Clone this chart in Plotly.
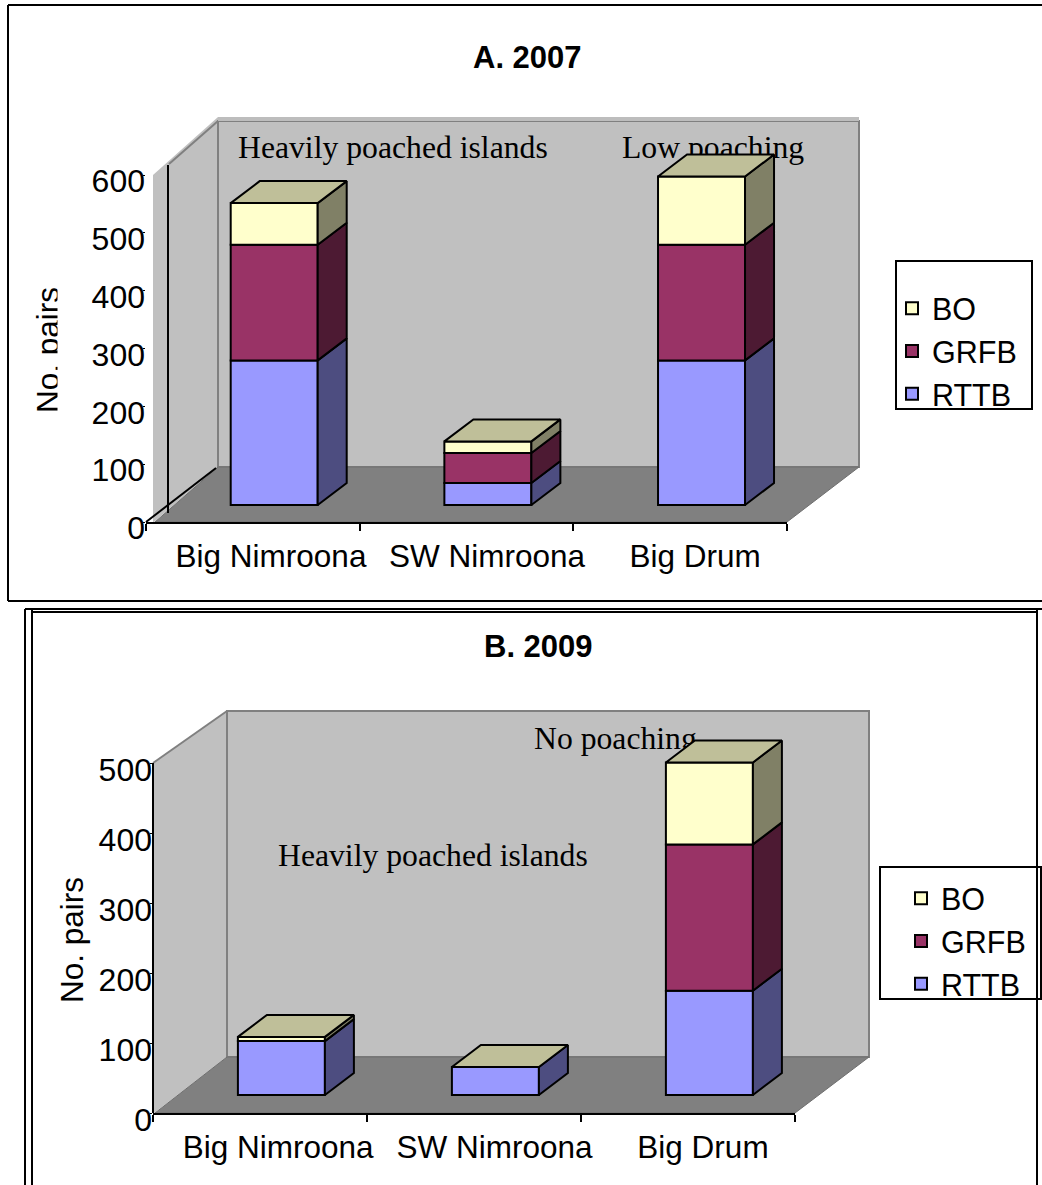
import plotly.graph_objects as go

W, H = 1042, 1185

CATEGORIES = ["Big Nimroona", "SW Nimroona", "Big Drum"]
SERIES = ["RTTB", "GRFB", "BO"]
A_RTTB = [250, 38, 250]
A_GRFB = [200, 52, 200]
A_BO = [72, 20, 118]
B_RTTB = [77, 40, 149]
B_GRFB = [0, 0, 209]
B_BO = [6, 0, 117]
A_TICKS = [0, 100, 200, 300, 400, 500, 600]
B_TICKS = [0, 100, 200, 300, 400, 500]

FRONT = ["#9999FF", "#993366", "#FFFFCC"]
SIDE = ["#4D4D80", "#4D1A33", "#808066"]
TOP = "#BFBF99"
WALL = "#C0C0C0"
FLOOR = "#808080"
EDGE = "#808080"
SANS = "Liberation Sans"
SERIF = "Liberation Serif"

fig = go.Figure()
shapes, annotations = [], []


def fx(x):
    return x / W


def fy(y):
    return 1 - y / H


def poly(points, fill=None, line=None, lw=1.5, layer="below"):
    path = "M" + " L".join(f"{fx(a)},{fy(b)}" for a, b in points) + (" Z" if fill else "")
    shapes.append(dict(type="path", path=path, xref="paper", yref="paper", layer=layer,
                       fillcolor=fill or "rgba(0,0,0,0)",
                       line=dict(color=line or "rgba(0,0,0,0)", width=lw if line else 0)))


def panel(idx, vals, ticks, ox, oy, xlen, ylen, ymax, label_pos, depth, wall_left, stripe, back_top, texts,
          lift_px, label_shift, legend_name, legend_x, legend_y):
    suffix = "" if idx == 1 else str(idx)
    xa, ya = f"x{suffix}", f"y{suffix}"
    lab_ya = f"y{idx + 2}"
    ppx = xlen / 3.0
    ppy = ylen / ymax
    bar_w = 87 / ppx
    bar_dx = 29 / ppx
    bar_dy = 22 / ppy
    lift = lift_px / ppy
    centers = [i + 0.6 for i in range(3)]
    head = ylen + 90                       # room above the axis so that the labels stay in range
    ytop = head / ppy

    # walls and floor, below all the traces
    bx0, bx1 = ox + depth[0], ox + xlen + depth[0]
    by0, by1 = oy + depth[1], back_top
    lx = ox + wall_left
    poly([(lx, oy + 1), (bx0, by0), (bx0, by1 - stripe), (lx, oy - ylen)], fill=WALL)
    poly([(bx0, by0), (bx1, by0), (bx1, by1), (bx0, by1)], fill=WALL, line=EDGE, lw=2)
    if stripe:
        poly([(bx0, by1 - stripe), (bx1, by1 - stripe), (bx1, by1), (bx0, by1)], fill="#BDBDBD")
    gx = lx + (16 if stripe else 0)
    gy = oy - ylen - (11 if stripe else 0)
    poly([(gx, gy), (bx0, by1)], line=EDGE, lw=2)
    poly([(lx + 2, oy), (ox + xlen, oy), (bx1, by0), (bx0, by0)], fill=FLOOR, line="#6E6E6E", lw=1)

    # text sits behind the bars' 3D faces
    for px_x, px_y, txt in texts:
        fig.add_trace(go.Scatter(x=[(px_x - ox) / ppx], y=[(oy - px_y) / ppy], xaxis=xa, yaxis=ya,
                                 mode="text", text=[txt], textposition="middle right",
                                 textfont=dict(family=SERIF, size=31.7, color="black"),
                                 cliponaxis=False, showlegend=False, hoverinfo="skip"))

    base = [lift] * 3
    for s, name in enumerate(SERIES):
        fig.add_trace(go.Bar(x=centers, y=vals[s], base=list(base), width=bar_w, name=name,
                             xaxis=xa, yaxis=ya, legend=legend_name,
                             marker=dict(color=FRONT[s], line=dict(color="black", width=2))))
        sx, sy = [], []
        for i, c in enumerate(centers):
            if vals[s][i] <= 0:
                continue
            r = c + bar_w / 2
            lo, hi = base[i], base[i] + vals[s][i]
            sx += [r, r + bar_dx, r + bar_dx, r, r, None]
            sy += [lo, lo + bar_dy, hi + bar_dy, hi, lo, None]
        if sx:
            fig.add_trace(go.Scatter(x=sx, y=sy, xaxis=xa, yaxis=ya, mode="lines", fill="toself",
                                     fillcolor=SIDE[s], line=dict(color="black", width=2),
                                     cliponaxis=False, showlegend=False, hoverinfo="skip"))
        base = [b + v for b, v in zip(base, vals[s])]

    tx, ty = [], []
    for i, c in enumerate(centers):
        l, r = c - bar_w / 2, c + bar_w / 2
        t = base[i]
        tx += [l, l + bar_dx, r + bar_dx, r, l, None]
        ty += [t, t + bar_dy, t + bar_dy, t, t, None]
    fig.add_trace(go.Scatter(x=tx, y=ty, xaxis=xa, yaxis=ya, mode="lines", fill="toself",
                             fillcolor=TOP, line=dict(color="black", width=2),
                             cliponaxis=False, showlegend=False, hoverinfo="skip"))

    # carrier for the tick-label axis
    fig.add_trace(go.Scatter(x=[None], y=[None], xaxis=xa, yaxis=lab_ya, showlegend=False, hoverinfo="skip"))

    axis_font = dict(family=SANS, size=32, color="black")
    xkey = "xaxis" + suffix
    ykey = "yaxis" + suffix
    fig.update_layout(**{
        xkey: dict(domain=[fx(ox), fx(ox + xlen)], range=[0, 3], anchor=ya, showgrid=False, zeroline=False,
                   showline=True, linecolor="black", linewidth=2, ticks="", tickmode="array",
                   tickvals=label_pos, ticktext=CATEGORIES, tickfont=dict(family=SANS, size=31.5, color="black"),
                   ticklabelstandoff=5,
                   minor=dict(tickmode="array", tickvals=[0, 1, 2, 3], ticks="outside", ticklen=7,
                              tickwidth=1.5, tickcolor="black", showgrid=False)),
        ykey: dict(domain=[fy(oy), fy(oy - head)], range=[0, ytop], anchor=xa, showgrid=False, zeroline=False,
                   showline=False, ticks="outside", ticklen=2,
                   tickcolor="black", tickmode="array", tickvals=ticks, showticklabels=False),
        f"yaxis{idx + 2}": dict(domain=[fy(oy + label_shift), fy(oy + label_shift - head)], range=[0, ytop],
                                anchor=xa, showgrid=False, zeroline=False, showline=False, ticks="",
                                tickmode="array", tickvals=ticks, ticktext=[str(t) for t in ticks],
                                tickfont=axis_font),
        legend_name: dict(x=fx(legend_x), y=fy(legend_y), xanchor="left", yanchor="top", xref="paper", yref="paper",
                          bgcolor="rgba(0,0,0,0)", borderwidth=0, traceorder="reversed",
                          font=dict(family=SANS, size=30.5, color="black")),
    })


panel(1, [A_RTTB, A_GRFB, A_BO], A_TICKS, 146, 522, 641, 347, 600, [0.585, 1.596, 2.57], (72, -55), 7, 4, 121,
      [(238, 150, "Heavily poached islands"), (622, 150, "Low poaching")], 17, 6, "legend", 892, 282)
panel(2, [B_RTTB, B_GRFB, B_BO], B_TICKS, 153, 1113, 642, 350, 500, [0.585, 1.596, 2.57], (74, -56), 0, 0, 711,
      [(278, 858, "Heavily poached islands"), (534, 741, "No poaching")], 18, 7, "legend2", 901, 872)


def frame(x0, y0, x1, y1, color="black", width=2):
    shapes.append(dict(type="rect", xref="paper", yref="paper", x0=fx(x0), x1=fx(x1), y0=fy(y0), y1=fy(y1),
                       line=dict(color=color, width=width), fillcolor="rgba(0,0,0,0)", layer="above"))


def seg(x0, y0, x1, y1, width=2, color="black"):
    shapes.append(dict(type="line", xref="paper", yref="paper", x0=fx(x0), x1=fx(x1), y0=fy(y0), y1=fy(y1),
                       line=dict(color=color, width=width), layer="above"))


# panel frames
seg(8, 5, 1042, 5)
seg(8, 5, 8, 601)
seg(8, 601, 1042, 601)
seg(25, 609, 1042, 609)
seg(32, 612, 1037, 612)
seg(25, 609, 25, 1185)
seg(32, 609, 32, 1185)
seg(1037, 609, 1037, 1185)
# chart A extras
seg(168, 165, 168, 513)
seg(146, 522, 216, 468)
# chart B value axis line
seg(153, 763, 153, 1113)
# legend boxes
frame(896, 261, 1032, 409)
frame(880, 867, 1041, 999)


def label(x, y, text, size=31, bold=False, angle=0):
    annotations.append(dict(xref="paper", yref="paper", x=fx(x), y=fy(y), text=f"<b>{text}</b>" if bold else text,
                            showarrow=False, textangle=angle, xanchor="center", yanchor="middle",
                            font=dict(family=SANS, size=size, color="black")))


label(527, 57, "A. 2007", bold=True)
label(538, 647, "B. 2009", bold=True)
label(48, 350, "No. pairs", size=31.5, angle=-90)
label(72, 940, "No. pairs", size=31.5, angle=-90)
annotations.append(dict(xref="paper", yref="paper", x=fx(66), y=fy(350), text=" ", showarrow=False,
                        width=14, height=130, bgcolor="white", xanchor="center", yanchor="middle"))

fig.update_layout(width=W, height=H, margin=dict(l=0, r=0, t=0, b=0, pad=0, autoexpand=False), autosize=False,
                  paper_bgcolor="white", plot_bgcolor="rgba(0,0,0,0)", barmode="overlay",
                  shapes=shapes, annotations=annotations, hovermode=False)

fig.write_html("out.html", config={"displayModeBar": False},
               post_script="document.body.style.margin='0';document.documentElement.style.overflow='hidden';")
